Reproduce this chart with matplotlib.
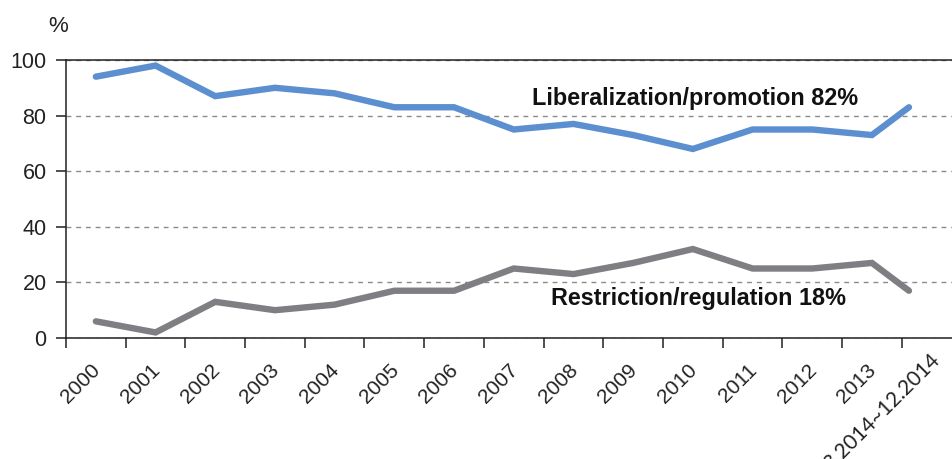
import numpy as np
import matplotlib.pyplot as plt
from matplotlib.transforms import ScaledTranslation

categories = ['2000', '2001', '2002', '2003', '2004', '2005', '2006', '2007',
              '2008', '2009', '2010', '2011', '2012', '2013', '3.2014~12.2014']
liberalization = [94, 98, 87, 90, 88, 83, 83, 75, 77, 73, 68, 75, 75, 73, 83]
restriction = [6, 2, 13, 10, 12, 17, 17, 25, 23, 27, 32, 25, 25, 27, 17]

blue = '#5b8fcf'
gray = '#7f7f83'
dark = '#231f20'

plt.rcParams['font.family'] = ['Liberation Sans', 'DejaVu Sans']

fig = plt.figure(figsize=(9.53, 4.59), dpi=100)
ax = fig.add_axes([66 / 953, 1 - 338 / 459, 59.7 * 15 / 953, 278 / 459])

n = len(categories)
centers = np.arange(n) + 0.5
xs = centers.copy()
xs[-1] -= 0.38  # last period is plotted a bit left of its slot

ax.plot(xs, liberalization, color=blue, lw=4.6, solid_capstyle='round',
        solid_joinstyle='miter', zorder=3)
ax.plot(xs, restriction, color=gray, lw=4.6, solid_capstyle='round',
        solid_joinstyle='miter', zorder=3)

ax.set_xlim(0, 15)
ax.set_ylim(0, 100)

ax.set_yticks(np.arange(0, 101, 20))
ax.tick_params(axis='y', direction='out', length=7, width=1.1, color=dark,
               labelsize=15.5, labelcolor='#222222', pad=7)
ax.yaxis.grid(True, linestyle=(0, (3.5, 3.5)), color='#8a8a8a', lw=1)
ax.set_axisbelow(True)

ax.set_xticks(np.arange(0, n))
ax.set_xticklabels([])
ax.tick_params(axis='x', which='major', direction='out', length=7, width=1.1,
               color=dark)
ax.set_xticks(centers, categories, minor=True)
ax.tick_params(axis='x', which='minor', length=0, pad=16, labelsize=15,
               labelcolor='#222222')
labels = ax.get_xticklabels(minor=True)
for lab in labels:
    lab.set_rotation(45)
    lab.set_ha('right')
    lab.set_va('top')
    lab.set_transform(lab.get_transform()
                      + ScaledTranslation(8 / 100, 0, fig.dpi_scale_trans))
last = labels[-1]
last.set_family(['Lato', 'DejaVu Sans'])
last.set_fontsize(15)
last.set_transform(last.get_transform()
                   + ScaledTranslation(4 / 100, 10 / 100, fig.dpi_scale_trans))

for side in ['left', 'bottom', 'top']:
    ax.spines[side].set_color(dark)
    ax.spines[side].set_linewidth(1.1)
ax.spines['right'].set_visible(False)

ax.text(10.54, 86, 'Liberalization/promotion 82%', ha='center', va='center',
        fontsize=16.8, fontweight='bold', color='#111111')
ax.text(10.6, 14.2, 'Restriction/regulation 18%', ha='center', va='center',
        fontsize=16.8, fontweight='bold', color='#111111')

fig.text(58 / 953, 1 - 27 / 459, '%', ha='center', va='center', fontsize=16,
         color='#222222')

fig.savefig('out.png', dpi=100)
